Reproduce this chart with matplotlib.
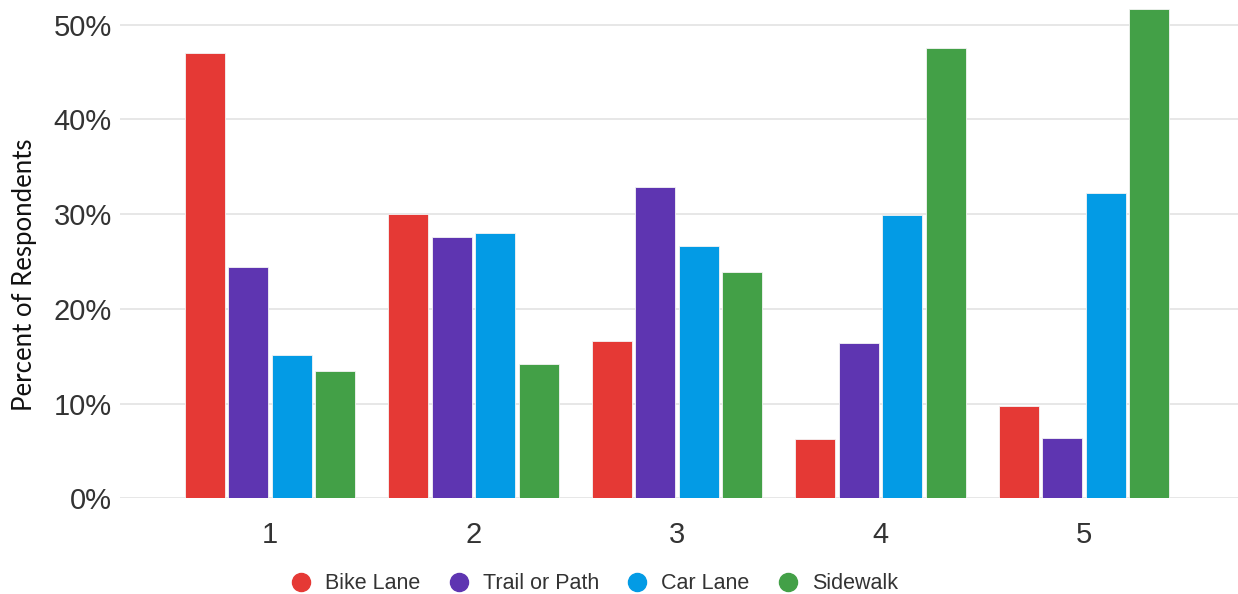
import matplotlib.pyplot as plt
from matplotlib.lines import Line2D
from matplotlib.ticker import FuncFormatter
import numpy as np

# Valores (percentual de respondentes)
categorias = ['1', '2', '3', '4', '5']
bike_lane = [47.0, 30.0, 16.6, 6.3, 9.7]
trail_path = [24.4, 27.6, 32.9, 16.4, 6.4]
car_lane = [15.1, 28.0, 26.6, 29.9, 32.2]
sidewalk = [13.4, 14.2, 23.9, 47.5, 51.7]

series = ['Bike Lane', 'Trail or Path', 'Car Lane', 'Sidewalk']
cores = ['#E53935', '#5E35B1', '#039BE5', '#43A047']
valores = [bike_lane, trail_path, car_lane, sidewalk]

plt.rcParams['font.family'] = ['Liberation Sans', 'DejaVu Sans']

fig = plt.figure(figsize=(12.38, 5.94), dpi=100)
ax = fig.add_axes([120 / 1238, 95.7 / 594, 1118 / 1238, 498.3 / 594])

x = np.arange(1, len(categorias) + 1)
largura = 0.197
passo = 0.214
for i, (nome, cor, vals) in enumerate(zip(series, cores, valores)):
    ax.bar(x + (i - 1.5) * passo, vals, width=largura, color=cor,
           edgecolor='#f4f4f4', linewidth=0.6, label=nome, zorder=3)

ax.set_xlim(0.263, 5.757)
ax.set_ylim(0, 52.6)
ax.set_yticks([0, 10, 20, 30, 40, 50])
ax.yaxis.set_major_formatter(FuncFormatter(lambda v, p: f'{v:.0f}%'))
ax.set_xticks(x)
ax.set_xticklabels(categorias)
ax.grid(axis='y', color='#e3e3e3', linewidth=1.2, zorder=0)
for s in ax.spines.values():
    s.set_visible(False)
ax.tick_params(axis='both', length=0, labelsize=21, labelcolor='#333333')
ax.tick_params(axis='y', pad=6)
ax.tick_params(axis='x', pad=16)

fig.text(0.020, 0.538, 'Percent of Respondents', rotation=90, ha='center', va='center',
         fontsize=18.5, color='#111111', family=['Lato', 'DejaVu Sans'])

handles = [Line2D([], [], marker='o', linestyle='', markersize=13, color=c) for c in cores]
fig.legend(handles, series, loc='center', bbox_to_anchor=(0.48, 0.017), ncol=4,
           frameon=False, fontsize=15.5, handlelength=1.0, handletextpad=0.62,
           columnspacing=1.27, borderpad=0, labelcolor='#333333')

fig.savefig('out.png', dpi=100)
